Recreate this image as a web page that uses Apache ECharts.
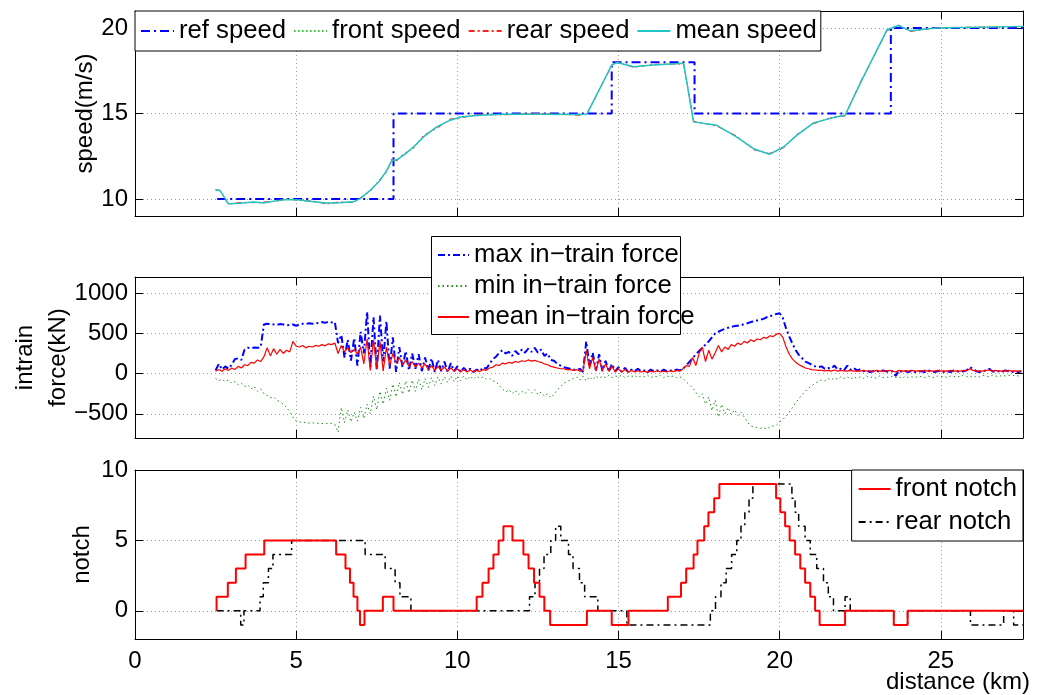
<!DOCTYPE html>
<html>
<head>
<meta charset="utf-8">
<script src="https://cdn.jsdelivr.net/npm/echarts@6/dist/echarts.min.js"></script>
<style>
html,body{margin:0;padding:0;background:#fff;}
#chart{width:1046px;height:695px;}
</style>
</head>
<body>
<div id="chart"></div>
<script>
// ---------------- DATA ----------------
const xTicks = [0, 5, 10, 15, 20, 25];
const speedTicks = [10, 15, 20];
const forceTicks = [-500, 0, 500, 1000];
const notchTicks = [0, 5, 10];

// reference speed (change points, value holds until next point)
const refDist = [2.55, 8.02, 14.79, 17.36, 23.45, 27.55];
const refVal  = [10, 15, 18, 15, 20, 20];

const speedDist = [2.50,2.64,2.90,3.26,3.67,3.98,4.40,4.71,5.12,5.53,5.94,6.36,6.78,6.98,7.29,7.60,7.81,7.97,8.12,8.33,8.64,8.95,9.36,9.78,10.09,10.71,11.43,12.47,13.81,14.02,14.79,14.95,15.47,16.09,17.02,17.33,18.05,18.67,19.19,19.68,20.12,20.53,21.05,21.67,22.03,22.50,23.33,23.69,24.05,24.88,27.57];
const meanSpeed = [10.53,10.49,9.71,9.75,9.82,9.76,9.90,9.96,9.94,9.84,9.76,9.78,9.84,10.00,10.49,11.08,11.67,12.25,12.29,12.55,13.04,13.63,14.22,14.61,14.80,14.90,14.96,14.96,14.94,14.96,17.84,17.98,17.74,17.84,17.94,14.51,14.31,13.62,12.94,12.61,13.04,13.72,14.45,14.76,14.90,16.76,19.90,20.15,19.84,20.00,20.10];
const frontSpeed = [10.53,10.48,9.72,9.74,9.83,9.77,9.89,9.97,9.93,9.85,9.75,9.79,9.83,10.02,10.47,11.10,11.65,12.27,12.28,12.57,13.02,13.65,14.20,14.62,14.79,14.91,14.95,14.97,14.93,14.97,17.82,17.99,17.73,17.85,17.93,14.52,14.30,13.63,12.93,12.62,13.03,13.73,14.44,14.77,14.89,16.78,19.88,20.16,19.83,20.01,20.09];
const rearSpeed = [10.53,10.50,9.68,9.80,9.78,9.82,9.86,10.01,9.90,9.88,9.70,9.83,9.78,10.06,10.42,11.16,11.58,12.34,12.22,12.64,12.95,13.72,14.12,14.68,14.74,14.95,14.92,15.00,14.90,14.99,17.78,18.02,17.70,17.88,17.90,14.55,14.26,13.68,12.88,12.66,12.98,13.78,14.40,14.80,14.86,16.82,19.84,20.18,19.80,20.03,20.08];

// in-train forces, sampled every 0.1 km from 2.5 km
const forceStartKm = 2.5, forceStepKm = 0.1;
const forceMax = [
 40,120,50,90,60,110,180,190,170,300,
 320,315,325,320,330,610,620,615,610,605,
 615,610,600,605,610,595,610,620,615,625,
 620,630,625,640,630,645,635,640,380,480,
 200,420,160,440,100,520,250,770,80,700,
 50,720,150,650,60,450,20,330,80,280,
 40,250,60,240,30,200,40,190,20,170,
 30,150,20,130,30,90,20,70,30,60,
 20,50,30,80,60,120,180,210,260,290,
 250,270,220,280,240,300,260,310,270,320,
 260,300,220,250,170,160,120,100,80,70,
 60,50,40,60,20,400,100,260,40,240,
 30,160,20,120,30,80,20,70,20,50,
 30,60,30,40,20,50,30,40,20,50,
 30,40,30,50,40,60,100,145,190,240,
 280,320,360,400,450,500,520,540,555,570,
 580,590,595,600,615,625,640,650,660,670,
 680,700,710,730,740,750,690,560,460,370,
 290,230,190,150,130,110,90,80,90,60,
 70,60,100,50,60,40,100,50,70,40,
 50,30,40,20,30,40,20,40,30,20,
 30,-30,40,20,30,20,40,20,30,30,
 20,40,30,20,30,40,20,30,20,40,
 30,20,30,40,80,60,30,20,30,40,
 60,30,20,30,20,40,30,20,30,20,
 30];
const forceMean = [
 30,50,30,60,40,70,50,90,70,110,
 100,140,130,170,150,210,320,220,310,240,
 300,250,290,270,400,340,330,350,320,340,
 330,350,340,360,345,370,360,380,250,350,
 270,320,260,300,240,330,120,430,40,420,
 60,400,30,330,100,250,130,200,110,170,
 90,150,80,130,70,120,50,100,40,90,
 40,80,30,70,30,60,20,50,20,45,
 20,40,25,50,40,70,80,110,100,130,
 120,140,130,150,140,160,150,170,155,165,
 150,140,120,110,90,80,70,60,60,50,
 50,40,50,30,40,290,60,200,30,180,
 40,120,30,90,20,60,20,50,15,40,
 20,35,20,30,15,30,20,35,20,30,
 20,35,25,40,30,60,100,90,200,100,
 250,330,150,290,180,260,350,270,330,300,
 360,340,380,360,400,380,420,400,430,420,
 450,440,470,460,490,500,450,330,240,180,
 140,110,90,70,60,50,45,40,40,35,
 40,30,45,30,40,35,30,40,30,35,
 30,40,30,35,25,40,30,35,30,40,
 30,20,40,30,35,30,40,30,35,30,
 40,30,35,30,40,30,35,30,40,30,
 35,30,40,35,60,40,30,35,30,40,
 45,30,40,30,35,30,40,30,35,30,
 30];
const forceMin = [
 -60,-90,-70,-100,-80,-120,-100,-140,-120,-160,
 -140,-190,-160,-220,-190,-250,-270,-300,-290,-330,
 -350,-380,-420,-470,-540,-590,-600,-610,-605,-615,
 -610,-620,-615,-620,-625,-615,-620,-630,-730,-420,
 -610,-450,-600,-480,-590,-420,-560,-380,-500,-280,
 -450,-220,-380,-180,-330,-130,-290,-110,-260,-90,
 -240,-80,-220,-70,-200,-60,-170,-50,-150,-40,
 -130,-40,-110,-30,-100,-30,-90,-30,-80,-30,
 -70,-30,-60,-40,-70,-60,-90,-100,-150,-190,
 -230,-200,-250,-210,-260,-220,-250,-200,-240,-200,
 -260,-230,-280,-250,-300,-260,-200,-160,-120,-100,
 -80,-60,-40,-80,-30,-90,-40,-80,-30,-60,
 -30,-50,-20,-50,-30,-40,-20,-50,-30,-40,
 -20,-50,-30,-40,-20,-50,-30,-40,-20,-50,
 -30,-40,-30,-50,-40,-60,-100,-140,-180,-230,
 -290,-250,-380,-290,-460,-330,-540,-380,-500,-420,
 -510,-450,-520,-480,-540,-600,-650,-660,-670,-680,
 -670,-690,-660,-650,-640,-600,-570,-530,-480,-420,
 -360,-310,-260,-220,-180,-150,-120,-100,-80,-90,
 -60,-80,-50,-70,-40,-60,-40,-70,-40,-60,
 -40,-60,-30,-50,-40,-60,-30,-50,-40,-50,
 -30,-50,-40,-60,-30,-50,-40,-50,-30,-40,
 -50,-30,-40,-50,-30,-40,-30,-50,-30,-40,
 -30,-40,-20,-40,-30,-50,-30,-40,-20,-30,
 -40,-20,-30,-40,-20,-30,-20,-30,-20,-30,
 -20];

// notch (change points, value holds until next point)
const frontNotchDist = [2.53,2.53,2.88,3.13,3.43,4.01,6.24,6.53,6.67,6.78,6.90,6.98,7.12,7.69,8.02,10.60,10.78,10.97,11.12,11.28,11.43,11.71,12.05,12.21,12.38,12.55,12.70,12.88,14.02,14.79,15.31,16.53,16.94,17.10,17.33,17.45,17.66,17.79,17.97,18.13,19.89,20.02,20.17,20.31,20.48,20.64,20.79,20.95,21.10,21.24,22.03,23.54,23.97,27.55];
const frontNotchVal  = [0,1,2,3,4,5,4,3,2,1,0,-1,0,1,0,1,2,3,4,5,6,5,4,3,2,1,0,-1,0,-1,0,1,2,3,4,5,6,7,8,9,8,7,6,5,4,3,2,1,0,-1,0,-1,0,0];
const rearNotchDist = [2.53,3.28,3.38,3.88,3.98,4.14,4.28,4.86,7.14,7.76,8.07,8.22,8.56,12.24,12.41,12.55,12.69,12.90,13.05,13.21,13.45,13.59,13.79,13.95,14.36,15.26,17.85,18.01,18.18,18.34,18.51,18.67,18.80,18.92,19.05,19.17,20.38,20.48,20.59,20.79,20.95,21.15,21.36,21.51,21.67,22.03,22.19,23.54,23.97,25.92,26.95,27.26,27.55];
const rearNotchVal  = [0,-1,0,1,2,3,4,5,4,3,2,1,0,1,2,3,4,5,6,5,4,3,2,1,0,-1,0,1,2,3,4,5,6,7,8,9,8,7,6,5,4,3,2,1,0,1,0,-1,0,-1,0,-1,-1];

// ---------------- BUILD ----------------
const pairs = (xs, ys) => xs.map((x, i) => [x, ys[i]]);
const forceDist = forceMax.map((_, i) => +(forceStartKm + forceStepKm * i).toFixed(2));

const FONT = 'Liberation Sans, Arial, Helvetica, sans-serif';
const XMAX = 27.55;
const fmt = (v) => String(v).replace('-', '\u2212');
const gridDot = { show: true, lineStyle: { color: '#9a9a9a', width: 1, type: [1, 3] } };
const axLine = { show: true, onZero: false, lineStyle: { color: '#000', width: 1 } };
const tick = (vals) => ({ show: true, inside: true, length: 8, customValues: vals, lineStyle: { color: '#000', width: 1 } });

function xAx(grid, pos, showLabel, extra) {
  return Object.assign({
    type: 'value', gridIndex: grid, position: pos, min: 0, max: XMAX,
    axisLine: axLine, axisTick: tick(xTicks),
    axisLabel: { show: showLabel, customValues: xTicks, formatter: fmt, color: '#000', fontSize: 24, fontFamily: FONT, margin: 10 },
    splitLine: pos === 'bottom' ? gridDot : { show: false }
  }, extra || {});
}
function yAx(grid, pos, min, max, vals, extra) {
  return Object.assign({
    type: 'value', gridIndex: grid, position: pos, min: min, max: max,
    axisLine: axLine, axisTick: tick(vals),
    axisLabel: { show: pos === 'left', customValues: vals, formatter: fmt, color: '#000', fontSize: 24, fontFamily: FONT, margin: 7 },
    splitLine: pos === 'left' ? gridDot : { show: false }
  }, extra || {});
}
const nameStyle = { color: '#000', fontSize: 24, fontFamily: FONT };

const legendText = { color: '#000', fontSize: 25.7, fontFamily: FONT, lineHeight: 30 };
const legendNoSymbol = { opacity: 0, borderWidth: 0 };

const option = {
  animation: false,
  backgroundColor: '#fff',
  grid: [
    { left: 135, right: 23, top: 11, height: 205, outerBoundsMode: 'none' },
    { left: 135, right: 23, top: 277, height: 161, outerBoundsMode: 'none' },
    { left: 135, right: 23, top: 470, height: 169, outerBoundsMode: 'none' }
  ],
  xAxis: [
    xAx(0, 'bottom', false),
    xAx(1, 'bottom', false),
    xAx(2, 'bottom', true, {
      name: 'distance (km)', nameLocation: 'end', nameGap: 7, nameMoveOverlap: false,
      nameTextStyle: Object.assign({}, nameStyle, { align: 'right', verticalAlign: 'top', padding: [31, 0, 0, 0] })
    }),
    xAx(0, 'top', false),
    xAx(1, 'top', false),
    xAx(2, 'top', false)
  ],
  yAxis: [
    yAx(0, 'left', 9, 21, speedTicks, { name: 'speed(m/s)', nameLocation: 'middle', nameGap: 38, nameRotate: 90, nameMoveOverlap: false, nameTextStyle: nameStyle }),
    yAx(1, 'left', -800, 1200, forceTicks, { name: 'intrain\nforce(kN)', nameLocation: 'middle', nameGap: 60, nameRotate: 90, nameMoveOverlap: false, nameTextStyle: Object.assign({}, nameStyle, { lineHeight: 33 }) }),
    yAx(2, 'left', -2, 10, notchTicks, { name: 'notch', nameLocation: 'middle', nameGap: 41, nameRotate: 90, nameMoveOverlap: false, nameTextStyle: nameStyle }),
    yAx(0, 'right', 9, 21, speedTicks),
    yAx(1, 'right', -800, 1200, forceTicks),
    yAx(2, 'right', -2, 10, notchTicks)
  ],
  legend: [
    {
      data: ['ref speed', 'front speed', 'rear speed', 'mean speed'],
      orient: 'horizontal', left: 135, top: 11, padding: [5, 4, 5, 5],
      itemWidth: 33, itemHeight: 14, itemGap: 7, itemStyle: legendNoSymbol,
      backgroundColor: '#fff', borderColor: '#000', borderWidth: 1, borderRadius: 0,
      textStyle: legendText, z: 10
    },
    {
      data: ['max in\u2212train force', 'min in\u2212train force', 'mean in\u2212train force'],
      orient: 'vertical', left: 431, top: 236, padding: [6, 6, 6, 6],
      itemWidth: 31, itemHeight: 14, itemGap: 5, itemStyle: legendNoSymbol,
      borderWidth: 0, textStyle: Object.assign({}, legendText, { lineHeight: 26 }), z: 10
    },
    {
      data: ['front notch', 'rear notch'],
      orient: 'vertical', right: 23, top: 470, padding: [6, 6, 6, 6],
      itemWidth: 32, itemHeight: 14, itemGap: 7, itemStyle: legendNoSymbol,
      backgroundColor: '#fff', borderColor: '#000', borderWidth: 1, borderRadius: 0,
      textStyle: Object.assign({}, legendText, { lineHeight: 26 }), z: 10
    }
  ],
  graphic: [
    { type: 'rect', z: 8, shape: { x: 431.5, y: 236.5, width: 249, height: 98 }, style: { fill: '#fff', stroke: '#000', lineWidth: 1 } }
  ],
  series: [
    { name: 'ref speed', type: 'line', xAxisIndex: 0, yAxisIndex: 0, step: 'end', symbol: 'none', data: pairs(refDist, refVal),
      lineStyle: { color: '#0000ff', width: 2, type: [9, 4, 2, 4] }, itemStyle: { color: '#0000ff' } },
    { name: 'front speed', type: 'line', xAxisIndex: 0, yAxisIndex: 0, symbol: 'none', data: pairs(speedDist, frontSpeed),
      lineStyle: { color: '#30c030', width: 1, type: [1.5, 2.5] }, itemStyle: { color: '#30c030' } },
    { name: 'rear speed', type: 'line', xAxisIndex: 0, yAxisIndex: 0, symbol: 'none', data: pairs(speedDist, rearSpeed),
      lineStyle: { color: '#ff2020', width: 1, type: [6, 3, 2, 3] }, itemStyle: { color: '#ff2020' } },
    { name: 'mean speed', type: 'line', xAxisIndex: 0, yAxisIndex: 0, symbol: 'none', data: pairs(speedDist, meanSpeed),
      lineStyle: { color: '#22c4c4', width: 1.5 }, itemStyle: { color: '#22c4c4' } },

    { name: 'max in\u2212train force', type: 'line', xAxisIndex: 1, yAxisIndex: 1, symbol: 'none', data: pairs(forceDist, forceMax),
      lineStyle: { color: '#0000ff', width: 2, type: [7, 3, 2, 3] }, itemStyle: { color: '#0000ff' } },
    { name: 'min in\u2212train force', type: 'line', xAxisIndex: 1, yAxisIndex: 1, symbol: 'none', data: pairs(forceDist, forceMin),
      lineStyle: { color: '#1e8f1e', width: 1, type: [1.5, 3] }, itemStyle: { color: '#1e8f1e' } },
    { name: 'mean in\u2212train force', type: 'line', xAxisIndex: 1, yAxisIndex: 1, symbol: 'none', data: pairs(forceDist, forceMean),
      lineStyle: { color: '#ff0000', width: 1.2 }, itemStyle: { color: '#ff0000' } },

    { name: 'front notch', type: 'line', xAxisIndex: 2, yAxisIndex: 2, step: 'end', symbol: 'none', data: pairs(frontNotchDist, frontNotchVal),
      lineStyle: { color: '#ff0000', width: 2 }, itemStyle: { color: '#ff0000' }, z: 3 },
    { name: 'rear notch', type: 'line', xAxisIndex: 2, yAxisIndex: 2, step: 'end', symbol: 'none', data: pairs(rearNotchDist, rearNotchVal),
      lineStyle: { color: '#000000', width: 1.5, type: [7, 4, 2, 4] }, itemStyle: { color: '#000000' }, z: 2 }
  ]
};

const chart = echarts.init(document.getElementById('chart'), null, { renderer: 'canvas' });
chart.setOption(option);
</script>
</body>
</html>
